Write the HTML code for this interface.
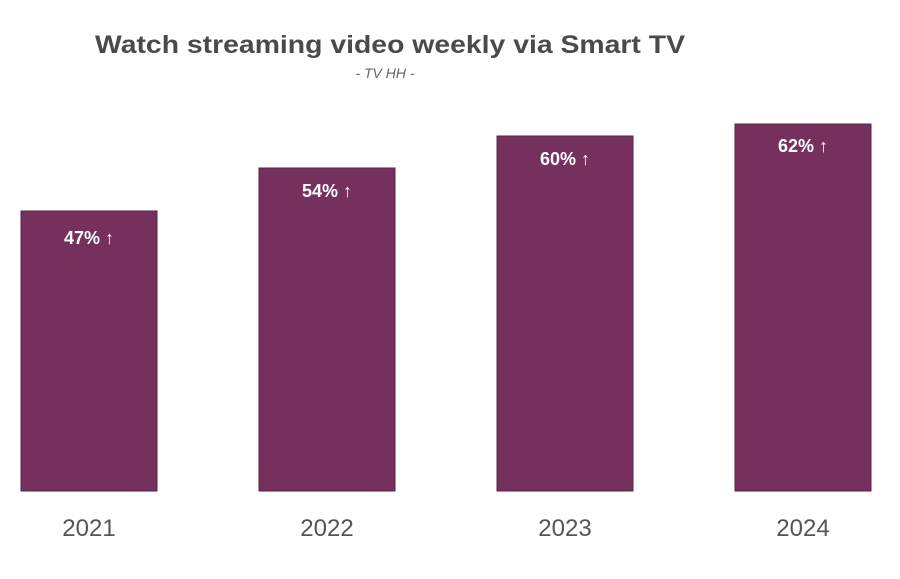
<!DOCTYPE html>
<html><head><meta charset="utf-8"><style>
html,body{margin:0;padding:0;background:#fff;}
svg{display:block;}
</style></head><body>
<svg width="900" height="579" xmlns="http://www.w3.org/2000/svg" font-family="Liberation Sans, sans-serif">
<rect width="900" height="579" fill="#fff"/>
<text x="95" y="53" font-size="25" font-weight="bold" fill="#4a4a4a" textLength="590" lengthAdjust="spacingAndGlyphs">Watch streaming video weekly via Smart TV</text>
<text x="385" y="78" font-size="14" font-style="italic" fill="#666" text-anchor="middle">- TV HH -</text>
<g fill="#76305e" stroke="#5e2249" stroke-width="1">
<rect x="21" y="211" width="136" height="280"/>
<rect x="259" y="168" width="136" height="323"/>
<rect x="497" y="136" width="136" height="355"/>
<rect x="735" y="124" width="136" height="367"/>
</g>
<g font-size="18" font-weight="bold" fill="#fff" text-anchor="middle">
<text x="89" y="244">47% ↑</text>
<text x="327" y="197">54% ↑</text>
<text x="565" y="165">60% ↑</text>
<text x="803" y="152">62% ↑</text>
</g>
<g font-size="24" fill="#555" text-anchor="middle">
<text x="89" y="536">2021</text>
<text x="327" y="536">2022</text>
<text x="565" y="536">2023</text>
<text x="803" y="536">2024</text>
</g>
</svg>
</body></html>
